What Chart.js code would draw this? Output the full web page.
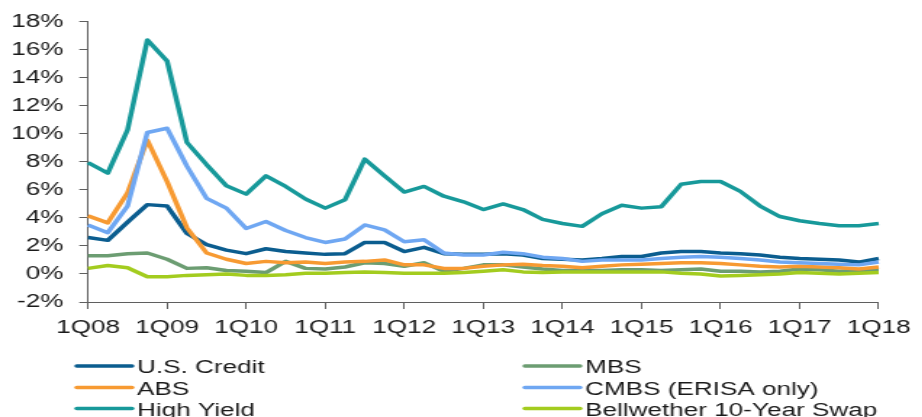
<html>
<head>
<script src="https://cdn.jsdelivr.net/npm/chart.js@4.4.1/dist/chart.umd.min.js"></script>
<style>
  body { margin: 0; background: #fff; }
  /* chart is laid out narrow and stretched sideways */
  #wrap { position: absolute; left: 0; top: 0; width: 636px; height: 417px;
          transform: scaleX(1.45); transform-origin: 0 0; }
</style>
</head>
<body>
<div id="wrap"><canvas id="myChart"></canvas></div>
<script>
var quarters = ['1Q08','2Q08','3Q08','4Q08','1Q09','2Q09','3Q09','4Q09',
                '1Q10','2Q10','3Q10','4Q10','1Q11','2Q11','3Q11','4Q11',
                '1Q12','2Q12','3Q12','4Q12','1Q13','2Q13','3Q13','4Q13',
                '1Q14','2Q14','3Q14','4Q14','1Q15','2Q15','3Q15','4Q15',
                '1Q16','2Q16','3Q16','4Q16','1Q17','2Q17','3Q17','4Q17','1Q18'];

var usCredit = [2.6, 2.4, 3.7, 4.95, 4.85, 2.9, 2.1, 1.7, 1.45, 1.8, 1.6, 1.5, 1.4, 1.45, 2.25, 2.25,
                1.6, 1.9, 1.45, 1.4, 1.4, 1.45, 1.35, 1.1, 1.05, 1.0, 1.1, 1.25, 1.25, 1.5, 1.6, 1.6,
                1.5, 1.45, 1.35, 1.2, 1.1, 1.05, 1.0, 0.85, 1.1];
var mbs      = [1.3, 1.3, 1.45, 1.5, 1.05, 0.4, 0.45, 0.25, 0.2, 0.1, 0.9, 0.4, 0.35, 0.5, 0.8, 0.75,
                0.55, 0.8, 0.2, 0.4, 0.65, 0.65, 0.5, 0.35, 0.25, 0.25, 0.25, 0.3, 0.3, 0.25, 0.3, 0.35,
                0.2, 0.2, 0.15, 0.2, 0.35, 0.3, 0.2, 0.25, 0.3];
var abs      = [4.15, 3.65, 5.8, 9.55, 6.6, 3.3, 1.5, 1.05, 0.75, 0.9, 0.8, 0.85, 0.75, 0.85, 0.9, 1.0,
                0.65, 0.65, 0.4, 0.4, 0.55, 0.65, 0.7, 0.6, 0.55, 0.45, 0.55, 0.65, 0.7, 0.75, 0.8, 0.8,
                0.75, 0.65, 0.55, 0.5, 0.55, 0.5, 0.45, 0.35, 0.5];
var cmbs     = [3.5, 2.95, 4.85, 10.1, 10.4, 7.7, 5.4, 4.7, 3.25, 3.75, 3.1, 2.6, 2.25, 2.5, 3.5, 3.15,
                2.3, 2.45, 1.5, 1.35, 1.35, 1.55, 1.45, 1.2, 1.1, 0.9, 1.0, 1.0, 1.0, 1.1, 1.2, 1.25,
                1.2, 1.1, 1.0, 0.85, 0.8, 0.75, 0.7, 0.65, 0.85];
var highYield = [7.95, 7.2, 10.3, 16.7, 15.2, 9.4, 7.8, 6.3, 5.7, 7.0, 6.25, 5.35, 4.7, 5.3, 8.2, 7.0,
                 5.85, 6.25, 5.55, 5.15, 4.6, 5.0, 4.6, 3.9, 3.6, 3.4, 4.3, 4.9, 4.7, 4.8, 6.4, 6.6,
                 6.6, 5.9, 4.85, 4.1, 3.8, 3.6, 3.45, 3.45, 3.6];
var swap10y  = [0.4, 0.6, 0.45, -0.2, -0.2, -0.1, -0.05, 0.0, -0.1, -0.1, -0.05, 0.05, 0.05, 0.1, 0.15, 0.1,
                0.05, 0.05, 0.05, 0.1, 0.2, 0.3, 0.15, 0.1, 0.15, 0.15, 0.15, 0.15, 0.15, 0.15, 0.05, 0.0,
                -0.15, -0.1, -0.05, 0.0, 0.1, 0.05, 0.0, 0.05, 0.1];

var seriesNames = ['U.S. Credit', 'MBS', 'ABS', 'CMBS (ERISA only)', 'High Yield', 'Bellwether 10-Year Swap'];
var seriesData = [usCredit, mbs, abs, cmbs, highYield, swap10y];
var seriesColors = ['#0b5d8f', '#6c9d72', '#f79a32', '#6fa7f2', '#17999a', '#a3cc1f'];

var yTicks = [-2, 0, 2, 4, 6, 8, 10, 12, 14, 16, 18];

var axisColor = '#5f5f5f';
var textFont = { family: "'Liberation Sans', Arial, sans-serif", size: 18 };

// two-column legend under the plot, filled row by row
var sideLegend = {
  id: 'sideLegend',
  afterDraw: function(chart) {
    var ctx = chart.ctx;
    var colX = [53, 362];
    var rowY = [366, 387.5, 408.5];
    ctx.save();
    ctx.font = '18px ' + textFont.family;
    ctx.fillStyle = '#1a1a1a';
    ctx.textBaseline = 'alphabetic';
    chart.data.datasets.forEach(function(ds, i) {
      var x = colX[i % 2], y = rowY[Math.floor(i / 2)];
      ctx.strokeStyle = ds.borderColor;
      ctx.lineWidth = 3.5;
      ctx.lineCap = 'round';
      ctx.beginPath();
      ctx.moveTo(x, y);
      ctx.lineTo(x + 38, y);
      ctx.stroke();
      ctx.fillText(ds.label, x + 41.5, y + 7);
    });
    ctx.restore();
  }
};

var datasets = seriesNames.map(function(name, i) {
  return {
    label: name,
    data: seriesData[i],
    borderColor: seriesColors[i],
    backgroundColor: seriesColors[i],
    borderWidth: 3.5,
    pointRadius: 0,
    tension: 0,
    fill: false,
    borderJoinStyle: 'round',
    order: seriesNames.length - i
  };
});

var ctx = document.getElementById('myChart').getContext('2d');
var myChart = new Chart(ctx, {
  type: 'line',
  data: { labels: quarters, datasets: datasets },
  options: {
    responsive: true,
    maintainAspectRatio: false,
    animation: false,
    layout: { padding: { left: 0, right: 23.6, top: 18, bottom: 75 } },
    plugins: {
      legend: { display: false },
      tooltip: { enabled: false }
    },
    scales: {
      x: {
        offset: false,
        border: { display: true, color: axisColor, width: 1 },
        grid: { display: true, drawOnChartArea: false, drawTicks: true, tickLength: 7, color: axisColor },
        ticks: {
          autoSkip: false, maxRotation: 0, padding: 8,
          color: '#1a1a1a', font: textFont,
          callback: function(value) {
            var lab = this.getLabelForValue(value);
            return lab.indexOf('1Q') === 0 ? lab : null;
          }
        },
        afterFit: function(scale) { scale.height = 40; }
      },
      y: {
        min: yTicks[0],
        max: yTicks[yTicks.length - 1],
        border: { display: true, color: axisColor, width: 1 },
        grid: { display: true, drawOnChartArea: false, drawTicks: true, tickLength: 6, color: axisColor },
        afterBuildTicks: function(scale) {
          scale.ticks = yTicks.map(function(v) { return { value: v }; });
        },
        ticks: {
          padding: 11,
          color: '#1a1a1a', font: textFont,
          callback: function(v) { return v + '%'; }
        },
        afterFit: function(scale) { scale.width = 60.7; }
      }
    }
  },
  plugins: [sideLegend]
});
</script>
</body>
</html>
